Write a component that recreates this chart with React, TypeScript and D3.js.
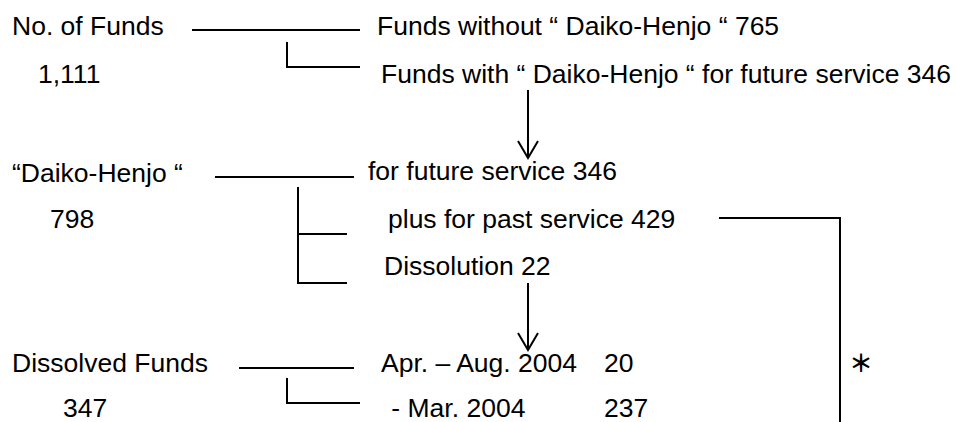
import React from "react";
import * as d3 from "d3";

// ---- data ----
const totalFunds = 1111;
const fundsLabels = ["Funds without \u201C Daiko-Henjo \u201C", "Funds with \u201C Daiko-Henjo \u201C for future service"];
const fundsValues = [765, 346];

const daikoTitle = "\u201CDaiko-Henjo \u201C";
const daikoTotal = 798;
const daikoLabels = ["for future service", "plus for past service", "Dissolution"];
const daikoValues = [346, 429, 22];

const dissolvedTitle = "Dissolved Funds";
const dissolvedTotal = 347;
const dissolvedLabels = ["Apr. \u2013 Aug. 2004", " - Mar. 2004"];
const dissolvedValues = [20, 237];

const fmt = d3.format(",");
const FONT = "'Liberation Sans', Arial, sans-serif";

export default function App() {
  const W = 956, H = 422;
  const stroke = "#000";
  const sw = 2;
  const line = d3.line<[number, number]>();
  const txt = (x: number, y: number, s: string, key: string) => (
    <text key={key} x={x} y={y} fontSize={26.5} fontFamily={FONT} fill="#000" style={{ whiteSpace: "pre" }}>{s}</text>
  );
  const path = (pts: [number, number][], key: string) => (
    <path key={key} d={line(pts) || ""} fill="none" stroke={stroke} strokeWidth={sw} />
  );
  return (
    <svg width={W} height={H} style={{ position: "absolute", left: 0, top: 0, background: "#fff" }}>
      {/* Block 1 */}
      {txt(12, 35, "No. of Funds", "t1")}
      {txt(38, 83, fmt(totalFunds), "t1v")}
      {path([[192, 30], [360, 30]], "l1")}
      {path([[287, 42], [287, 67], [360, 67]], "l1b")}
      {txt(377, 35, `${fundsLabels[0]} ${fundsValues[0]}`, "f0")}
      {txt(381, 83, `${fundsLabels[1]} ${fundsValues[1]}`, "f1")}
      {/* arrow 1 */}
      {path([[528, 90], [528, 158]], "a1")}
      {path([[518, 141], [528, 158], [538, 141]], "a1h")}

      {/* Block 2 */}
      {txt(12, 182, daikoTitle, "t2")}
      {txt(50, 228, fmt(daikoTotal), "t2v")}
      {path([[215, 177], [354, 177]], "l2")}
      {path([[298, 187], [298, 283], [347, 283]], "l2v")}
      {path([[298, 234], [347, 234]], "l2m")}
      {txt(368, 180, `${daikoLabels[0]} ${daikoValues[0]}`, "d0")}
      {txt(388, 228, `${daikoLabels[1]} ${daikoValues[1]}`, "d1")}
      {txt(384, 275, `${daikoLabels[2]} ${daikoValues[2]}`, "d2")}
      {path([[719, 218], [840, 218], [840, 424]], "r1")}
      {/* arrow 2 */}
      {path([[528, 283], [528, 350]], "a2")}
      {path([[518, 333], [528, 350], [538, 333]], "a2h")}

      {/* Block 3 */}
      {txt(12, 372, dissolvedTitle, "t3")}
      {txt(63, 417, fmt(dissolvedTotal), "t3v")}
      {path([[239, 368], [354, 368]], "l3")}
      {path([[287, 378], [287, 403], [360, 403]], "l3b")}
      {txt(381, 372, dissolvedLabels[0], "s0")}
      {txt(604, 372, String(dissolvedValues[0]), "s0v")}
      {txt(384, 417, dissolvedLabels[1], "s1")}
      {txt(604, 417, String(dissolvedValues[1]), "s1v")}
      <text x={849} y={372} fontSize={24} fontWeight={700} fontFamily="'Noto Sans CJK JP', sans-serif" fill="#000">{"\uFF0A"}</text>
    </svg>
  );
}
